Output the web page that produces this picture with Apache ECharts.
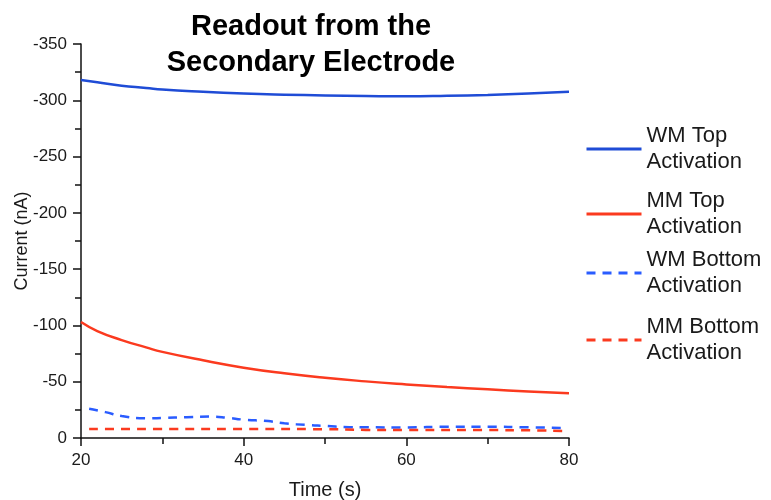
<!DOCTYPE html>
<html>
<head>
<meta charset="utf-8">
<script src="https://cdn.jsdelivr.net/npm/echarts@6/dist/echarts.min.js"></script>
<style>
html,body{margin:0;padding:0;background:#fff;}
#chart{width:771px;height:500px;}
</style>
</head>
<body>
<div id="chart"></div>
<script>
var titleText = 'Readout from the\nSecondary Electrode';
var xName = 'Time (s)';
var yName = 'Current (nA)';
var seriesNames = ['WM Top\nActivation', 'MM Top\nActivation', 'WM Bottom\nActivation', 'MM Bottom\nActivation'];

var wmTopTime   = [20, 22, 25, 28, 30, 35, 40, 45, 50, 55, 60, 65, 70, 75, 80];
var wmTopValues = [-318, -316, -313, -311, -309.5, -307.5, -306, -305, -304.3, -303.8, -303.5, -304, -304.8, -306, -307.5];

var mmTopTime   = [20, 22, 25, 28, 30, 35, 40, 45, 50, 55, 60, 65, 70, 75, 80];
var mmTopValues = [-103, -95, -87, -80.5, -76.5, -69, -62.5, -57.5, -53.5, -50.3, -47.6, -45.2, -43.2, -41.4, -39.7];

var wmBotTime   = [21, 23, 25, 28, 30, 33, 36, 38, 40, 43, 45, 48, 50, 53, 55, 60, 65, 70, 75, 79.5];
var wmBotValues = [-26, -23, -19.5, -17.5, -17.8, -18.5, -19, -18, -16.3, -15, -13, -11.5, -10.8, -9.6, -9.5, -9.4, -10, -10, -9.5, -8.9];

var mmBotTime   = [21, 30, 40, 50, 55, 60, 70, 75, 79.5];
var mmBotValues = [-8, -8, -8, -7.8, -7.2, -7, -7, -6.8, -6.2];

function pairs(t, v) { return t.map(function (x, i) { return [x, v[i]]; }); }

var blueSolid = '#1f4cd6';
var blueDash = '#2a5cff';
var red = '#fb3a1f';
var font = 'Liberation Sans, Arial, Helvetica, sans-serif';

var legendTops = [118, 183, 242, 309];
var legends = seriesNames.map(function (n, i) {
  return {
    data: [n],
    left: 580,
    top: legendTops[i],
    orient: 'vertical',
    itemWidth: 55,
    itemHeight: 14,
    itemGap: 0,
    itemStyle: { opacity: 0 },
    lineStyle: { width: 3 },
    textStyle: { fontFamily: font, fontSize: 22, color: '#1a1a1a', lineHeight: 26 },
    selectedMode: false
  };
});

var chart = echarts.init(document.getElementById('chart'), null, { renderer: 'canvas' });
chart.setOption({
  animation: false,
  backgroundColor: '#fff',
  title: {
    text: titleText,
    left: 306,
    top: 4,
    textAlign: 'center',
    textStyle: { fontFamily: font, fontSize: 29, fontWeight: 'bold', color: '#000', lineHeight: 36 }
  },
  legend: legends,
  grid: { left: 81, right: 202, top: 44, bottom: 62, containLabel: false, outerBoundsMode: 'none' },
  xAxis: {
    type: 'value', min: 20, max: 80, interval: 20,
    name: xName, nameLocation: 'middle', nameGap: 42, nameMoveOverlap: false,
    nameTextStyle: { fontFamily: font, fontSize: 20, color: '#1a1a1a' },
    axisLine: { show: true, lineStyle: { color: '#111', width: 1.5 } },
    axisTick: { show: true, length: 8, lineStyle: { color: '#111', width: 1.5 } },
    minorTick: { show: true, splitNumber: 2, length: 6, lineStyle: { color: '#111', width: 1.5 } },
    axisLabel: { fontFamily: font, fontSize: 17, color: '#1a1a1a', margin: 14 },
    splitLine: { show: false }, minorSplitLine: { show: false }
  },
  yAxis: {
    type: 'value', min: -350, max: 0, interval: 50, inverse: true,
    name: yName, nameLocation: 'middle', nameGap: 50, nameRotate: 90, nameMoveOverlap: false,
    nameTextStyle: { fontFamily: font, fontSize: 18, color: '#1a1a1a' },
    axisLine: { show: true, lineStyle: { color: '#111', width: 1.5 } },
    axisTick: { show: true, length: 8, lineStyle: { color: '#111', width: 1.5 } },
    minorTick: { show: true, splitNumber: 2, length: 6, lineStyle: { color: '#111', width: 1.5 } },
    axisLabel: { fontFamily: font, fontSize: 17, color: '#1a1a1a', margin: 14 },
    splitLine: { show: false }, minorSplitLine: { show: false }
  },
  series: [
    { name: seriesNames[0], type: 'line', data: pairs(wmTopTime, wmTopValues), smooth: true, symbol: 'none',
      lineStyle: { color: blueSolid, width: 2.5 }, itemStyle: { color: blueSolid } },
    { name: seriesNames[1], type: 'line', data: pairs(mmTopTime, mmTopValues), smooth: true, symbol: 'none',
      lineStyle: { color: red, width: 2.5 }, itemStyle: { color: red } },
    { name: seriesNames[2], type: 'line', data: pairs(wmBotTime, wmBotValues), smooth: true, symbol: 'none',
      lineStyle: { color: blueDash, width: 2.5, type: [9, 7] }, itemStyle: { color: blueDash } },
    { name: seriesNames[3], type: 'line', data: pairs(mmBotTime, mmBotValues), smooth: true, symbol: 'none',
      lineStyle: { color: red, width: 2.5, type: [9, 7] }, itemStyle: { color: red } }
  ]
});
</script>
</body>
</html>
